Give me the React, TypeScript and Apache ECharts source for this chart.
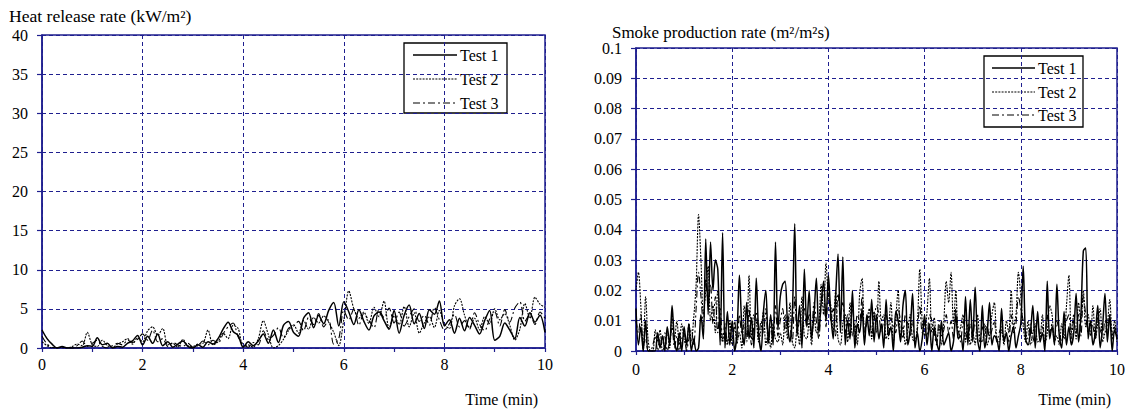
import React, { useEffect, useRef } from "react";
import * as echarts from "echarts";

// ---------- Data ----------
const seriesNames = ["Test 1", "Test 2", "Test 3"];

// Heat release rate (kW/m2), sampled every 0.1 min from 0 to 10 min
const hrrStepMin = 0.1;
const hrrTest1 = [
  2.3, 1.2, 0.5, 0, 0.2, 0, 0, 0, 0.1, 0.3,
  0.2, 1.3, 0.4, 0.6, 0, 0.2, 0.1, 0.6, 0.9, 1.6,
  0.4, 1.5, 0.6, 1.8, 0.3, 0.8, 0.1, 0.5, 0.9, 0.2,
  0, 0.4, 0.1, 0.8, 0.5, 1.2, 2.4, 3.3, 2.1, 1.6,
  0.1, 0.8, 0.3, 0.9, 1.8, 0.6, 2.3, 0.7, 2.9, 3.4,
  2.0, 1.5, 3.8, 4.5, 2.6, 4.2, 3.1, 4.8, 5.8, 2.8,
  5.9, 4.6, 3.0, 4.9, 3.4, 2.3, 4.1, 4.6, 3.5, 2.4,
  4.8, 1.9, 4.2, 5.5, 3.1, 4.4, 2.5, 4.9, 4.3, 6.0,
  2.8, 3.6, 1.9, 3.8, 2.2, 3.9, 2.9, 1.8, 3.5, 4.8,
  1.0, 1.5, 3.2, 2.3, 1.2, 3.9, 2.8, 4.5, 3.3, 4.2,
  2.0,
];
const hrrTest2 = [
  0.8, 0.3, 0, 0, 0.1, 0, 0.2, 0.5, 0.3, 2.0,
  0.4, 0.2, 1.0, 0.3, 0.1, 0.5, 0.8, 1.2, 0.5, 1.3,
  0.8, 2.2, 2.7, 1.6, 2.5, 0.4, 0.6, 0.1, 1.1, 0.3,
  0.2, 0.5, 0.6, 2.3, 0.4, 0.8, 1.9, 1.2, 2.9, 2.5,
  0.2, 0.4, 0.1, 1.2, 3.5, 1.7, 0, 0.3, 1.1, 2.2,
  3.0, 1.9, 3.5, 2.4, 3.9, 3.2, 4.1, 3.3, 2.0, 0.3,
  3.6, 7.3, 5.0, 3.8, 4.6, 3.1, 5.2, 4.0, 6.0, 2.5,
  4.1, 3.0, 5.3, 2.7, 4.5, 1.9, 3.2, 4.0, 2.6, 4.8,
  3.0, 2.5, 5.4, 6.3, 4.2, 2.6, 3.8, 2.3, 4.0, 3.1,
  5.0, 3.6, 4.4, 2.9, 1.0, 2.4, 5.7, 3.8, 6.5, 5.6,
  5.2,
];
const hrrTest3 = [
  1.5, 0.5, 0.1, 0, 0, 0, 0, 0.3, 0.9, 0.2,
  0.6, 1.0, 0.2, 0, 0.3, 0.6, 0.4, 1.0, 0.7, 1.1,
  1.8, 1.0, 2.3, 0.8, 1.2, 0.2, 0.7, 0.4, 0.2, 0.6,
  0.1, 0.3, 0.9, 0.4, 1.0, 0.6, 1.8, 2.7, 3.2, 1.4,
  0.5, 0.1, 0.7, 0.4, 2.2, 1.1, 1.6, 2.6, 1.3, 2.5,
  2.8, 3.4, 2.2, 3.9, 3.0, 4.4, 2.7, 3.6, 0.5, 1.2,
  4.8, 3.6, 5.0, 2.9, 4.4, 3.5, 2.6, 4.9, 3.9, 5.1,
  3.2, 4.6, 2.8, 4.0, 5.0, 3.4, 4.2, 2.9, 5.2, 3.6,
  2.3, 3.1, 4.3, 2.7, 3.5, 2.4, 4.5, 3.0, 2.2, 3.7,
  4.6, 2.8, 4.9, 3.3, 5.1, 5.9, 3.4, 4.3, 3.0, 4.6,
  3.8,
];

// Smoke production rate (m2/m2s), sampled every 0.05 min from 0 to 10 min
const sprStepMin = 0.05;
const sprTest1 = [
  0.014, 0.002, 0.008, 0.000, 0.010, 0.000, 0.000, 0.000, 0.000, 0.006, 0.001, 0.005, 0.000, 0.008, 0.002, 0.015, 0.003, 0.000, 0.006, 0.000,
  0.008, 0.002, 0.009, 0.000, 0.004, 0.000, 0.001, 0.012, 0.004, 0.037, 0.012, 0.036, 0.020, 0.030, 0.027, 0.002, 0.039, 0.001, 0.013, 0.002,
  0.010, 0.000, 0.006, 0.025, 0.008, 0.002, 0.016, 0.004, 0.011, 0.001, 0.024, 0.006, 0.000, 0.013, 0.020, 0.003, 0.012, 0.002, 0.036, 0.007,
  0.018, 0.022, 0.023, 0.009, 0.003, 0.012, 0.042, 0.005, 0.015, 0.001, 0.027, 0.008, 0.020, 0.004, 0.012, 0.024, 0.006, 0.016, 0.023, 0.010,
  0.025, 0.012, 0.004, 0.018, 0.032, 0.006, 0.031, 0.002, 0.010, 0.004, 0.020, 0.001, 0.009, 0.006, 0.014, 0.002, 0.012, 0.005, 0.017, 0.003,
  0.012, 0.004, 0.009, 0.001, 0.017, 0.005, 0.008, 0.000, 0.013, 0.010, 0.003, 0.015, 0.020, 0.002, 0.007, 0.019, 0.001, 0.006, 0.000, 0.004,
  0.012, 0.002, 0.009, 0.000, 0.008, 0.003, 0.000, 0.010, 0.002, 0.004, 0.006, 0.000, 0.003, 0.012, 0.004, 0.005, 0.000, 0.018, 0.002, 0.017,
  0.003, 0.021, 0.004, 0.000, 0.015, 0.001, 0.006, 0.016, 0.002, 0.005, 0.004, 0.000, 0.014, 0.003, 0.006, 0.000, 0.005, 0.008, 0.001, 0.005,
  0.009, 0.028, 0.004, 0.002, 0.006, 0.015, 0.001, 0.013, 0.003, 0.006, 0.000, 0.023, 0.004, 0.008, 0.002, 0.022, 0.005, 0.001, 0.013, 0.002,
  0.008, 0.002, 0.006, 0.019, 0.003, 0.012, 0.033, 0.034, 0.004, 0.010, 0.002, 0.006, 0.015, 0.001, 0.008, 0.019, 0.003, 0.012, 0.000, 0.007,
  0.004,
];
const sprTest2 = [
  0.020, 0.026, 0.015, 0.000, 0.018, 0.004, 0.000, 0.000, 0.007, 0.003, 0.007, 0.000, 0.002, 0.006, 0.001, 0.012, 0.004, 0.010, 0.002, 0.009,
  0.004, 0.001, 0.009, 0.003, 0.011, 0.022, 0.045, 0.030, 0.012, 0.020, 0.028, 0.010, 0.015, 0.006, 0.020, 0.010, 0.003, 0.006, 0.002, 0.010,
  0.002, 0.008, 0.003, 0.006, 0.001, 0.015, 0.005, 0.025, 0.004, 0.012, 0.010, 0.003, 0.007, 0.013, 0.002, 0.006, 0.001, 0.009, 0.004, 0.003,
  0.006, 0.002, 0.012, 0.004, 0.016, 0.003, 0.001, 0.008, 0.002, 0.018, 0.005, 0.004, 0.010, 0.002, 0.013, 0.006, 0.009, 0.022, 0.012, 0.029,
  0.018, 0.015, 0.006, 0.020, 0.004, 0.002, 0.009, 0.012, 0.003, 0.016, 0.005, 0.009, 0.002, 0.019, 0.024, 0.006, 0.010, 0.014, 0.004, 0.013,
  0.006, 0.023, 0.010, 0.012, 0.004, 0.008, 0.016, 0.003, 0.011, 0.020, 0.005, 0.008, 0.002, 0.007, 0.012, 0.004, 0.003, 0.009, 0.027, 0.010,
  0.005, 0.013, 0.024, 0.006, 0.011, 0.003, 0.008, 0.002, 0.010, 0.023, 0.016, 0.026, 0.009, 0.020, 0.004, 0.008, 0.012, 0.003, 0.009, 0.002,
  0.006, 0.002, 0.012, 0.004, 0.003, 0.009, 0.002, 0.005, 0.012, 0.016, 0.004, 0.003, 0.007, 0.002, 0.010, 0.006, 0.020, 0.008, 0.012, 0.026,
  0.018, 0.008, 0.003, 0.010, 0.002, 0.006, 0.009, 0.003, 0.004, 0.012, 0.002, 0.006, 0.015, 0.012, 0.003, 0.005, 0.002, 0.009, 0.004, 0.015,
  0.025, 0.006, 0.012, 0.004, 0.016, 0.010, 0.020, 0.008, 0.012, 0.005, 0.015, 0.004, 0.009, 0.014, 0.003, 0.006, 0.009, 0.017, 0.005, 0.010,
  0.003,
];
const sprTest3 = [
  0.010, 0.006, 0.012, 0.002, 0.004, 0.000, 0.000, 0.002, 0.005, 0.000, 0.004, 0.002, 0.006, 0.000, 0.003, 0.008, 0.001, 0.005, 0.000, 0.004,
  0.006, 0.000, 0.004, 0.007, 0.002, 0.014, 0.026, 0.018, 0.008, 0.024, 0.015, 0.022, 0.009, 0.018, 0.006, 0.014, 0.004, 0.009, 0.003, 0.006,
  0.004, 0.010, 0.002, 0.012, 0.006, 0.009, 0.003, 0.014, 0.002, 0.008, 0.013, 0.004, 0.010, 0.006, 0.014, 0.002, 0.008, 0.003, 0.015, 0.005,
  0.010, 0.014, 0.006, 0.012, 0.008, 0.003, 0.018, 0.006, 0.010, 0.004, 0.014, 0.008, 0.012, 0.005, 0.016, 0.010, 0.004, 0.015, 0.020, 0.008,
  0.022, 0.010, 0.014, 0.005, 0.019, 0.012, 0.016, 0.006, 0.012, 0.008, 0.015, 0.004, 0.012, 0.010, 0.018, 0.007, 0.009, 0.012, 0.006, 0.010,
  0.015, 0.012, 0.006, 0.010, 0.012, 0.004, 0.011, 0.008, 0.006, 0.014, 0.010, 0.004, 0.012, 0.009, 0.005, 0.010, 0.003, 0.007, 0.015, 0.006,
  0.009, 0.004, 0.012, 0.010, 0.006, 0.002, 0.010, 0.005, 0.007, 0.012, 0.006, 0.010, 0.004, 0.014, 0.007, 0.003, 0.010, 0.006, 0.004, 0.009,
  0.004, 0.010, 0.006, 0.003, 0.008, 0.005, 0.009, 0.004, 0.007, 0.010, 0.003, 0.006, 0.008, 0.004, 0.006, 0.003, 0.012, 0.006, 0.009, 0.018,
  0.014, 0.010, 0.006, 0.004, 0.009, 0.003, 0.007, 0.010, 0.005, 0.008, 0.003, 0.012, 0.006, 0.009, 0.004, 0.010, 0.006, 0.003, 0.008, 0.010,
  0.012, 0.004, 0.010, 0.006, 0.012, 0.005, 0.018, 0.012, 0.006, 0.010, 0.008, 0.004, 0.011, 0.007, 0.005, 0.010, 0.006, 0.012, 0.004, 0.008,
  0.005,
];

const hrrTitle = "Heat release rate (kW/m²)";
const sprTitle = "Smoke production rate (m²/m²s)";
const xAxisTitle = "Time (min)";

// ---------- Styles ----------
const NAVY = "#1f1f8f";
const FONT = "Liberation Serif";
const lineStyles: { width: number; dash: number[] | null }[] = [
  { width: 1.5, dash: null },
  { width: 1.1, dash: [2, 1.2] },
  { width: 1.1, dash: [7, 3, 2, 3] },
];

function toPairs(step: number, values: number[]) {
  return values.map((v, i) => [Number((i * step).toFixed(2)), v]);
}

function xAxisFor(gridIndex: number, labelMargin: number) {
  return {
    type: "value",
    gridIndex,
    min: 0,
    max: 10,
    interval: 2,
    axisLine: { show: true, onZero: false, lineStyle: { color: NAVY, width: 1.5 } },
    axisTick: { show: true, inside: false, length: 4, lineStyle: { color: NAVY, width: 1.2 } },
    minorTick: { show: true, splitNumber: 2, length: 4, lineStyle: { color: NAVY, width: 1.2 } },
    axisLabel: { color: "#000", fontFamily: FONT, fontSize: 16, margin: labelMargin },
    splitLine: { show: true, lineStyle: { color: NAVY, type: [4, 3], width: 1 } },
  };
}

function yAxisFor(gridIndex: number, max: number, interval: number) {
  return {
    type: "value",
    gridIndex,
    min: 0,
    max,
    interval,
    axisLine: { show: true, lineStyle: { color: NAVY, width: 1.5 } },
    axisTick: { show: true, inside: false, length: 5, lineStyle: { color: NAVY, width: 1.2 } },
    axisLabel: { color: "#000", fontFamily: FONT, fontSize: 16, margin: 14 },
    splitLine: { show: true, lineStyle: { color: NAVY, type: [4, 3], width: 1 } },
  };
}

function makeSeries(gridIndex: number, step: number, arrays: number[][]) {
  return arrays.map((arr, k) => ({
    name: seriesNames[k],
    type: "line",
    xAxisIndex: gridIndex,
    yAxisIndex: gridIndex,
    data: toPairs(step, arr),
    showSymbol: false,
    symbol: "none",
    smooth: 0.3,
    itemStyle: { color: "#000" },
    lineStyle: {
      color: "#000",
      width: lineStyles[k].width,
      type: lineStyles[k].dash ? (lineStyles[k].dash as any) : "solid",
    },
    z: 5 - k,
  }));
}

// Legend box drawn with graphic elements
function legendGraphic(x: number, y: number, w: number, h: number, rowYs: number[], lineX1: number, lineX2: number, textX: number) {
  const children: any[] = [
    { type: "rect", shape: { x, y, width: w, height: h }, style: { fill: "#fff", stroke: "#000", lineWidth: 1.3 } },
  ];
  seriesNames.forEach((name, k) => {
    children.push({
      type: "line",
      shape: { x1: lineX1, y1: rowYs[k], x2: lineX2, y2: rowYs[k] },
      style: {
        stroke: "#000",
        lineWidth: lineStyles[k].width,
        lineDash: lineStyles[k].dash || undefined,
      },
    });
    children.push({
      type: "text",
      x: textX,
      y: rowYs[k],
      style: { text: name, fontSize: 16, fontFamily: FONT, fill: "#000", verticalAlign: "middle", align: "left" },
    });
  });
  return { type: "group", z: 100, children };
}

export default function App() {
  const ref = useRef<HTMLDivElement>(null);

  useEffect(() => {
    document.body.style.margin = "0";
    if (!ref.current) return;
    const chart = echarts.init(ref.current, undefined, { renderer: "svg" });

    const option: any = {
      animation: false,
      backgroundColor: "#fff",
      textStyle: { fontFamily: FONT },
      grid: [
        { left: 42, right: 583, top: 35, bottom: 64, show: true, borderColor: NAVY, borderWidth: 1.5, backgroundColor: "transparent" },
        { left: 636, right: 8, top: 48, bottom: 61, show: true, borderColor: NAVY, borderWidth: 1.5, backgroundColor: "transparent" },
      ],
      xAxis: [xAxisFor(0, 8), xAxisFor(1, 10)],
      yAxis: [yAxisFor(0, 40, 5), yAxisFor(1, 0.1, 0.01)],
      series: [
        ...makeSeries(0, hrrStepMin, [hrrTest1, hrrTest2, hrrTest3]),
        ...makeSeries(1, sprStepMin, [sprTest1, sprTest2, sprTest3]),
      ],
      graphic: [
        legendGraphic(404, 43, 103, 70, [55, 79, 103], 413, 457, 460),
        legendGraphic(984, 56, 99, 71, [68, 92, 115], 992, 1035, 1038),
        {
          type: "text",
          x: 9,
          y: 17,
          scaleX: 1.1,
          style: { text: hrrTitle, fontSize: 16, fontFamily: FONT, fill: "#000", verticalAlign: "middle", align: "left" },
        },
        {
          type: "text",
          x: 612,
          y: 33,
          scaleX: 1.06,
          style: { text: sprTitle, fontSize: 16, fontFamily: FONT, fill: "#000", verticalAlign: "middle", align: "left" },
        },
        {
          type: "text",
          x: 538,
          y: 399,
          style: { text: xAxisTitle, fontSize: 16, fontFamily: FONT, fill: "#000", verticalAlign: "middle", align: "right" },
        },
        {
          type: "text",
          x: 1111,
          y: 399,
          style: { text: xAxisTitle, fontSize: 16, fontFamily: FONT, fill: "#000", verticalAlign: "middle", align: "right" },
        },
      ],
    };

    chart.setOption(option);
    return () => chart.dispose();
  }, []);

  return <div ref={ref} style={{ width: 1128, height: 412 }} />;
}
